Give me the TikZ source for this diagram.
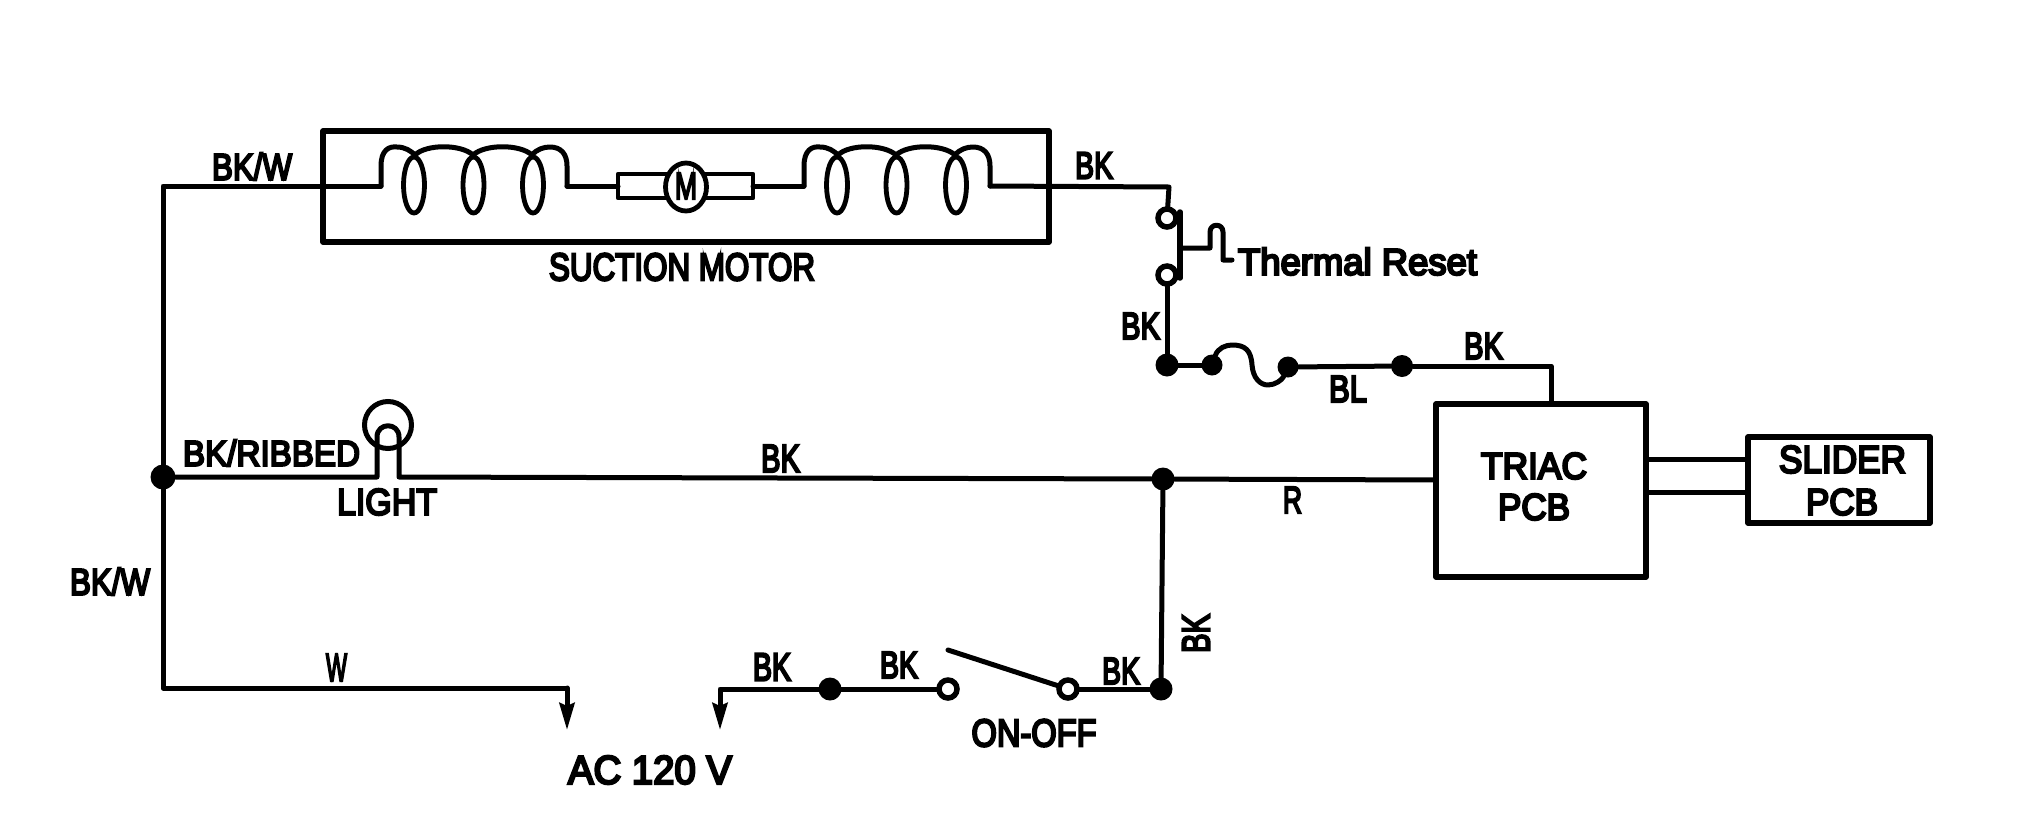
\documentclass[tikz,border=0pt]{standalone}
\usepackage{graphicx}
\usepackage{fontspec}
\usetikzlibrary{arrows.meta,shapes.geometric}
\newfontfamily\lblfont[RawFeature={embolden=6}]{Liberation Sans}
\newcommand{\fitlbl}[3]{\resizebox{#1pt}{#2pt}{\lblfont #3}}
\tikzset{
  wire/.style={line width=5pt,line cap=round,line join=round,black},
  heavy/.style={draw=black,line width=5.5pt,line join=round,rectangle,minimum width=#1,inner sep=0pt,outer sep=0pt},
  lbl/.style={inner sep=0pt,outer sep=0pt,text=black},
  dot/.style={circle,fill=black,draw=none,minimum size=#1,inner sep=0pt,outer sep=0pt},
  open/.style={circle,fill=white,draw=black,line width=5.5pt,minimum size=18pt,inner sep=0pt,outer sep=0pt},
  tipwire/.style={wire,-{Stealth[length=27pt,width=15pt,inset=3pt]}},
  coil/.pic={
    \coordinate (-in) at (0,0);
    \coordinate (-out) at (186,0);
    \draw[wire] (-in) -- (0,-20) .. controls (0,-36) and (8,-40) .. (16,-39) .. controls (24,-39) and (30,-35) .. (34,-31);
    \draw[wire] (34,-31) .. controls (45,-42) and (80,-42) .. (92,-31);
    \draw[wire] (92,-31) .. controls (104,-42) and (139,-42) .. (151,-31);
    \draw[wire] (151,-31) .. controls (156,-37) and (163,-39) .. (169,-39) .. controls (180,-39) and (186,-32) .. (186,-20) -- (-out);
    \foreach \cx in {33,92.5,152}{\draw[line width=4.8pt] (\cx,-1) ellipse [x radius=10.5,y radius=28];}
  }
}
\begin{document}
\begin{tikzpicture}[x=1pt,y=-1pt]
\useasboundingbox (0,0) rectangle (2025,833);
\fill[white] (0,0) rectangle (2025,833);

% boxes
\node[heavy=726pt,minimum height=111pt] (motorbox) at (686,186.5) {};
\node[heavy=210pt,minimum height=173pt] (triac) at (1541,490.5) {};
\node[heavy=182pt,minimum height=86pt] (slider) at (1839,480) {};

% junctions and contacts
\node[dot=25pt] (jleft) at (163,477) {};
\node[dot=23pt] (jmid) at (1163,479) {};
\node[dot=23pt] (jfuse) at (1167,365) {};
\node[dot=21pt] (fa) at (1212,365) {};
\node[dot=21pt] (fb) at (1288,367) {};
\node[dot=22pt] (jbl) at (1402,366) {};
\node[dot=23pt] (jsw) at (1161,689) {};
\node[dot=23pt] (jline) at (830,689) {};
\node[open] (thA) at (1167,218) {};
\node[open] (thB) at (1167,275) {};
\node[open] (swA) at (948,689) {};
\node[open] (swB) at (1068,689) {};

% named free points
\coordinate (cornerTL) at (163,186);
\coordinate (cornerTR) at (1169,187);
\coordinate (cornerBL) at (163,688);
\coordinate (cornerW) at (567,688);
\coordinate (tipW) at (567,730);
\coordinate (cornerL) at (720,689);
\coordinate (tipL) at (720,730);
\coordinate (cornerPCB) at (1551,366);
\coordinate (pcbtop) at (1551,404);
\coordinate (lampL) at (377,477);
\coordinate (lampR) at (399,477);
\coordinate (swtip) at (948,650);
\coordinate (levA) at (1180,212);
\coordinate (levB) at (1180,278);
\coordinate (levM) at (1180,248);
\coordinate (triacL) at (1436,480);

% suction motor
\pic (coilL) at (381,186) {coil};
\pic (coilR) at (804,186) {coil};
\node[heavy=135pt,minimum height=24pt,fill=white,line width=4.8pt] (mrect) at (685.5,186) {};
\node[ellipse,draw=black,fill=white,line width=4.8pt,minimum width=41pt,minimum height=48pt,inner sep=0pt,outer sep=0pt] (mcirc) at (686,187) {};
\node[lbl] (mlabel) at (686,186) {\fitlbl{22}{26}{M}};
\draw[wire] (coilL-out) -- (mrect.west |- coilL-out);
\draw[wire] (mrect.east) -- (coilR-in);

% wires
\draw[wire] (coilL-in) -- (cornerTL) -- (jleft);
\draw[wire] (jleft) -- (cornerBL) -- (cornerW);
\draw[tipwire] (cornerW) -- (tipW);
\draw[tipwire] (jline) -- (cornerL) -- (tipL);
\draw[wire] (jline) -- (swA);
\draw[wire] (swtip) -- (swB);
\draw[wire] (swB) -- (jsw);
\draw[wire] (jsw) -- (jmid);
\draw[wire] (jleft) -- (lampL) -- (377,437) .. controls (377,422) and (399,422) .. (399,437) -- (lampR) -- (jmid);
\draw[wire] (jmid) -- (triacL);
\node[circle,draw=black,line width=5pt,minimum size=47pt,inner sep=0pt,outer sep=0pt] (bulb) at (388,425) {};
\draw[wire] (coilR-out) -- (cornerTR) -- (thA);
\draw[wire] (thB) -- (jfuse);
\draw[wire,line width=5.5pt] (levA) -- (levB);
\draw[wire] (levM) -- (1210,248) -- (1210,232) .. controls (1210,223) and (1223,223) .. (1223,232) -- (1223,260) -- (1232,260);
\draw[wire] (jfuse) -- (fa);
\draw[wire] (fa) .. controls (1218,348) and (1226,345) .. (1232,345) .. controls (1245,345) and (1251,350) .. (1252,365) .. controls (1253,378) and (1260,385) .. (1268,385) .. controls (1275,385) and (1282,380) .. (fb);
\draw[wire] (fb) -- (jbl);
\draw[wire] (jbl) -- (cornerPCB) -- (pcbtop);
\draw[wire] (1646,459) coordinate (tA) -- (slider.west |- tA);
\draw[wire] (1646,492) coordinate (tB) -- (slider.west |- tB);

% labels
\node[lbl] (l1) at (252,166.5) {\fitlbl{80}{27}{BK/W}};
\node[lbl] (l2) at (110,581.5) {\fitlbl{80}{27}{BK/W}};
\node[lbl] (l3) at (336.5,667.5) {\fitlbl{21}{27}{W}};
\node[lbl] (l4) at (271.5,453) {\fitlbl{177}{26}{BK/RIBBED}};
\node[lbl] (l5) at (387,502) {\fitlbl{100}{26}{LIGHT}};
\node[lbl] (l6) at (682,267) {\fitlbl{266}{27}{SUCTION MOTOR}};
\node[lbl] (l7) at (1094,165.5) {\fitlbl{38}{26}{BK}};
\node[lbl] (l8) at (1357.5,261.5) {\fitlbl{239}{27}{Thermal Reset}};
\node[lbl] (l9) at (1140.5,326) {\fitlbl{39}{26}{BK}};
\node[lbl] (l10) at (1483.5,346) {\fitlbl{39}{26}{BK}};
\node[lbl] (l11) at (1348,389) {\fitlbl{38}{26}{BL}};
\node[lbl] (l12) at (780.5,458.5) {\fitlbl{39}{27}{BK}};
\node[lbl] (l13) at (1292.5,500) {\fitlbl{19}{26}{R}};
\node[lbl] (l14) at (1534,466) {\fitlbl{106}{26}{TRIAC}};
\node[lbl] (l15) at (1534,507) {\fitlbl{72}{26}{PCB}};
\node[lbl] (l16) at (1842.5,459.5) {\fitlbl{127}{27}{SLIDER}};
\node[lbl] (l17) at (1842,502) {\fitlbl{72}{26}{PCB}};
\node[lbl,rotate=90] (l18) at (1196,633.5) {\fitlbl{39}{27}{BK}};
\node[lbl] (l19) at (772,667) {\fitlbl{38}{27}{BK}};
\node[lbl] (l20) at (899,665) {\fitlbl{38}{26}{BK}};
\node[lbl] (l21) at (1121,671) {\fitlbl{38}{26}{BK}};
\node[lbl] (l22) at (1034,733) {\fitlbl{125}{27}{ON-OFF}};
\node[lbl] (l23) at (650,770) {\fitlbl{164}{28}{AC 120 V}};
\end{tikzpicture}
\end{document}
